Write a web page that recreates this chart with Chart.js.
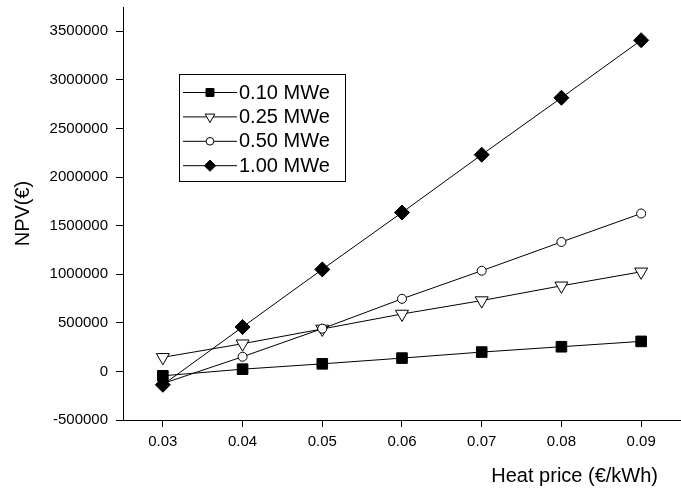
<!DOCTYPE html>
<html>
<head>
<meta charset="utf-8">
<script src="https://cdn.jsdelivr.net/npm/chart.js@4.4.0/dist/chart.umd.min.js"></script>
<style>
  html,body{margin:0;padding:0;background:#fff;}
  #wrap{width:681px;height:493px;}
</style>
</head>
<body>
<div id="wrap"><canvas id="npv" width="681" height="493"></canvas></div>
<script>
const FONT = '"Liberation Sans", Arial, sans-serif';

// data
const heatPrice = [0.03, 0.04, 0.05, 0.06, 0.07, 0.08, 0.09];
const npv010 = [-45000, 23000, 78000, 137000, 199000, 254000, 309000];
const npv025 = [145000, 285000, 437000, 591000, 729000, 881000, 1025000];
const npv050 = [-125000, 151000, 440000, 747000, 1036000, 1332000, 1625000];
const npv100 = [-138000, 457000, 1050000, 1635000, 2230000, 2816000, 3408000];
const seriesLabels = ['0.10 MWe', '0.25 MWe', '0.50 MWe', '1.00 MWe'];
const xTitle = 'Heat price (€/kWh)';
const yTitle = 'NPV(€)';

const $ = (id) => document.getElementById(id);
const pts = (arr) => heatPrice.map((x, i) => ({ x, y: arr[i] }));

function mkSet(label, arr, style, fill, radius, rot, order){
  return { label, data: pts(arr), showLine:true, borderColor:'#000', borderWidth:1, tension:0,
    pointStyle:style, pointRotation:rot||0, pointRadius:radius, pointHoverRadius:radius,
    pointBackgroundColor:fill, pointBorderColor:'#000', pointBorderWidth:1, order, clip:false };
}

// short minor ticks, the library draws the long ones
const minorTicks = {
  id:'minorTicks',
  afterDraw(chart){
    const { ctx, scales:{ x, y } } = chart;
    ctx.save(); ctx.strokeStyle = '#000'; ctx.lineWidth = 1; ctx.beginPath();
    x.ticks.forEach(t => { if(t.label == null){ const p = Math.round(x.getPixelForValue(t.value)) + 0.5; ctx.moveTo(p, x.top); ctx.lineTo(p, x.top + 4); } });
    y.ticks.forEach(t => { if(t.label == null){ const p = Math.round(y.getPixelForValue(t.value)) + 0.5; ctx.moveTo(y.right, p); ctx.lineTo(y.right - 4, p); } });
    ctx.stroke(); ctx.restore();
  }
};

const xTitlePlug = {
  id:'xTitlePlug',
  afterDraw(chart){
    const ctx = chart.ctx;
    ctx.save(); ctx.fillStyle = '#000'; ctx.font = '20px ' + FONT;
    ctx.textAlign = 'right'; ctx.textBaseline = 'middle';
    ctx.fillText(xTitle, 658, 476);
    ctx.restore();
  }
};

const boxLegend = {
  id:'boxLegend',
  afterDraw(chart){
    const ctx = chart.ctx;
    ctx.save();
    ctx.strokeStyle = '#000'; ctx.lineWidth = 1;
    ctx.strokeRect(179.5, 74.5, 166, 107);
    chart.data.datasets.forEach((ds, i) => {
      const yy = 92 + i * 24.4;
      ctx.strokeStyle = '#000';
      ctx.beginPath(); ctx.moveTo(183, yy + 0.5); ctx.lineTo(237, yy + 0.5); ctx.stroke();
      ctx.fillStyle = ds.pointBackgroundColor;
      const r = ds.pointStyle === 'circle' ? ds.pointRadius * 0.85 : ds.pointRadius * 0.75;
      Chart.helpers.drawPoint(ctx, { pointStyle: ds.pointStyle, rotation: ds.pointRotation, radius: r, borderWidth: 1 }, 210, yy + 0.5);
      ctx.fillStyle = '#000'; ctx.font = '20px ' + FONT; ctx.textAlign = 'left'; ctx.textBaseline = 'middle';
      ctx.fillText(ds.label, 239, yy + 1);
    });
    ctx.restore();
  }
};

new Chart($('npv'), {
  type:'scatter',
  data:{ datasets:[
    mkSet(seriesLabels[0], npv010, 'rect', '#000', 7.5, 0, 4),
    mkSet(seriesLabels[1], npv025, 'triangle', '#fff', 7.5, 180, 3),
    mkSet(seriesLabels[2], npv050, 'circle', '#fff', 4.5, 0, 2),
    mkSet(seriesLabels[3], npv100, 'rectRot', '#000', 7.5, 0, 1)
  ]},
  options:{
    responsive:false, animation:false, devicePixelRatio:1,
    layout:{ autoPadding:false, padding:{ top:7, right:0, bottom:0, left:0 } },
    plugins:{ legend:{ display:false }, tooltip:{ enabled:false } },
    scales:{
      x:{
        type:'linear', min:0.025, max:0.095,
        afterFit:(s) => { s.height = 73; s.paddingLeft = 0; s.paddingRight = 0; },
        border:{ color:'#000', width:1 },
        grid:{ drawOnChartArea:false, tickLength:7, tickColor:'#000' },
        ticks:{ stepSize:0.005, autoSkip:false, maxRotation:0, padding:6, color:'#000', font:{ family:FONT, size:15 },
          callback:(v) => { const k = Math.round(v * 1000); return k % 10 === 0 ? (k / 1000).toFixed(2) : null; } }
      },
      y:{
        type:'linear', min:-500000, max:3750000,
        afterFit:(s) => { s.width = 123; s.paddingTop = 0; s.paddingBottom = 0; },
        border:{ color:'#000', width:1 },
        grid:{ drawOnChartArea:false, tickLength:7, tickColor:'#000' },
        ticks:{ stepSize:250000, autoSkip:false, padding:8, color:'#000', font:{ family:FONT, size:15 },
          callback:(v) => Math.round(v) % 500000 === 0 ? String(Math.round(v)) : null },
        title:{ display:true, text:yTitle, color:'#000', font:{ family:FONT, size:20 }, padding:{ top:11, bottom:0 } }
      }
    }
  },
  plugins:[minorTicks, xTitlePlug, boxLegend]
});
</script>
</body>
</html>
